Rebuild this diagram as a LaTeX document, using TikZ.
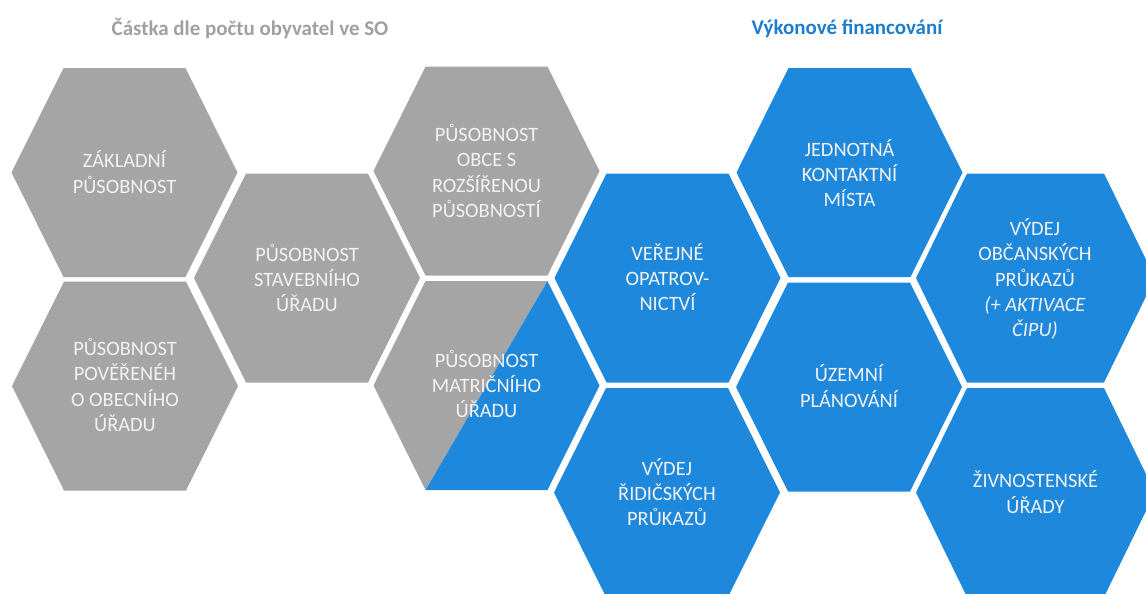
\documentclass[tikz,border=0pt]{standalone}
\usepackage{fontspec}
\setmainfont{Carlito}
\usepackage{xcolor}
\definecolor{hexgray}{RGB}{165,165,165}
\definecolor{hexblue}{RGB}{30,137,220}
\definecolor{hextext}{RGB}{242,242,242}
\definecolor{titlegray}{RGB}{160,160,160}
\definecolor{titleblue}{RGB}{28,125,205}
\usetikzlibrary{positioning}

\begin{document}
\begin{tikzpicture}[x=0.25mm,y=-0.25mm,
    hexlabel/.style={font=\fontsize{14.5}{18}\selectfont,text=hextext,align=center},
    grouptitle/.style={font=\fontsize{14.9}{16}\selectfont\bfseries}]
  \useasboundingbox (0,0) rectangle (1146,593);

  %% Group titles
  \node[grouptitle,text=titlegray] (titlePop) at (250,29) {Částka dle počtu obyvatel ve SO};
  \node[grouptitle,text=titleblue] (titleVykon) at (847,29) {Výkonové financování};

  %% Gray hexagons (per capita)
  \fill[hexgray,shift={(124.5,172.5)}] (-113,0) -- (-61,-104.5) -- (61,-104.5) -- (113,0) -- (61,104.5) -- (-61,104.5) -- cycle;
  \fill[hexgray,shift={(125,386)}] (-113,0) -- (-61,-104.5) -- (61,-104.5) -- (113,0) -- (61,104.5) -- (-61,104.5) -- cycle;
  \fill[hexgray,shift={(307,278)}] (-113,0) -- (-61,-104.5) -- (61,-104.5) -- (113,0) -- (61,104.5) -- (-61,104.5) -- cycle;
  \fill[hexgray,shift={(486.5,171)}] (-113,0) -- (-61,-104.5) -- (61,-104.5) -- (113,0) -- (61,104.5) -- (-61,104.5) -- cycle;

  %% Split hexagon (gray / blue)
  \fill[hexgray,shift={(486.5,385.5)}] (-113,0) -- (-61,-104.5) -- (61,-104.5) -- (-61,104.5) -- cycle;
  \fill[hexblue,shift={(486.5,385.5)}] (61,-104.5) -- (113,0) -- (61,104.5) -- (-61,104.5) -- cycle;

  %% Blue hexagons (performance based)
  \fill[hexblue,shift={(667.5,278)}] (-113,0) -- (-61,-104.5) -- (61,-104.5) -- (113,0) -- (61,104.5) -- (-61,104.5) -- cycle;
  \fill[hexblue,shift={(667,492.5)}] (-113,0) -- (-61,-104.5) -- (61,-104.5) -- (113,0) -- (61,104.5) -- (-61,104.5) -- cycle;
  \fill[hexblue,shift={(849.5,172.5)}] (-113,0) -- (-61,-104.5) -- (61,-104.5) -- (113,0) -- (61,104.5) -- (-61,104.5) -- cycle;
  \fill[hexblue,shift={(849,387)}] (-113,0) -- (-61,-104.5) -- (61,-104.5) -- (113,0) -- (61,104.5) -- (-61,104.5) -- cycle;
  \fill[hexblue,shift={(1035.5,278)}] (-119.5,0) -- (-68.5,-104.5) -- (68.5,-104.5) -- (119.5,0) -- (68.5,104.5) -- (-68.5,104.5) -- cycle;
  \fill[hexblue,shift={(1035.5,492.5)}] (-119.5,0) -- (-68.5,-104.5) -- (68.5,-104.5) -- (119.5,0) -- (68.5,104.5) -- (-68.5,104.5) -- cycle;

  %% Labels
  \node[hexlabel] (zakladni) at (124.5,172) {ZÁKLADNÍ\\PŮSOBNOST};
  \node[hexlabel] (povereny) at (125,385) {PŮSOBNOST\\POVĚŘENÉH\\O OBECNÍHO\\ÚŘADU};
  \node[hexlabel] (stavebni) at (307,278) {PŮSOBNOST\\STAVEBNÍHO\\ÚŘADU};
  \node[hexlabel] (orp) at (486.5,171) {PŮSOBNOST\\OBCE S\\ROZŠÍŘENOU\\PŮSOBNOSTÍ};
  \node[hexlabel] (matricni) at (486.5,384) {PŮSOBNOST\\MATRIČNÍHO\\ÚŘADU};
  \node[hexlabel] (opatrovnictvi) at (667.5,277) {VEŘEJNÉ\\OPATROV-\\NICTVÍ};
  \node[hexlabel] (ridicske) at (667,492) {VÝDEJ\\ŘIDIČSKÝCH\\PRŮKAZŮ};
  \node[hexlabel] (jkm) at (849.5,173) {JEDNOTNÁ\\KONTAKTNÍ\\MÍSTA};
  \node[hexlabel] (uzemni) at (849,386) {ÚZEMNÍ\\PLÁNOVÁNÍ};
  \node[hexlabel] (obcanske) at (1035,279) {VÝDEJ\\OBČANSKÝCH\\PRŮKAZŮ\\\textit{(+ AKTIVACE}\\\textit{ČIPU)}};
  \node[hexlabel] (zivnost) at (1035.5,492) {ŽIVNOSTENSKÉ\\ÚŘADY};
\end{tikzpicture}
\end{document}
